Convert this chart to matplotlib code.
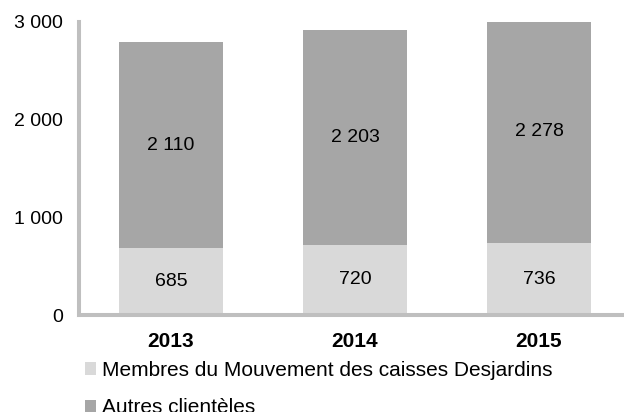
import matplotlib.pyplot as plt

plt.rcParams['font.family'] = ['Liberation Sans', 'DejaVu Sans']

years = ['2013', '2014', '2015']
membres = [685, 720, 736]
autres = [2110, 2203, 2278]
yticks = [0, 1000, 2000, 3000]
ytick_labels = ['0', '1 000', '2 000', '3 000']

fig = plt.figure(figsize=(6.24, 4.12), dpi=100)
ax = fig.add_axes([79 / 624, 97 / 412, 552 / 624, 293 / 412])

x = range(len(years))
b1 = ax.bar(x, membres, width=0.57, color='#d9d9d9', label='Membres du Mouvement des caisses Desjardins')
b2 = ax.bar(x, autres, width=0.57, bottom=membres, color='#a6a6a6', label='Autres clientèles')

# value labels in the middle of each segment
for i in x:
    ax.text(i, membres[i] / 2, str(membres[i]), ha='center', va='center', fontsize=14)
    ax.text(i, membres[i] + autres[i] / 2, f"{autres[i]:,}".replace(',', ' '),
            ha='center', va='center', fontsize=14)

ax.set_xlim(-0.5, 2.5)
ax.set_ylim(0, 3000)
ax.set_yticks(yticks)
ax.set_yticklabels(ytick_labels, fontsize=14)
ax.set_xticks(list(x))
ax.set_xticklabels(years, fontsize=15, fontweight='bold')
ax.tick_params(length=0)
ax.tick_params(axis='y', pad=11.5)
ax.tick_params(axis='x', pad=12)

for s in ['top', 'right']:
    ax.spines[s].set_visible(False)
for s in ['left', 'bottom']:
    ax.spines[s].set_color('#bfbfbf')
    ax.spines[s].set_linewidth(2.9)

fig.legend(handles=[b1, b2], loc='upper left', bbox_to_anchor=(85 / 624, 1 - 361 / 412),
           frameon=False, fontsize=15, handlelength=0.53, handleheight=0.53,
           handletextpad=0.3, labelspacing=0.88, borderaxespad=0, borderpad=0)

fig.savefig('out.png', dpi=100)
